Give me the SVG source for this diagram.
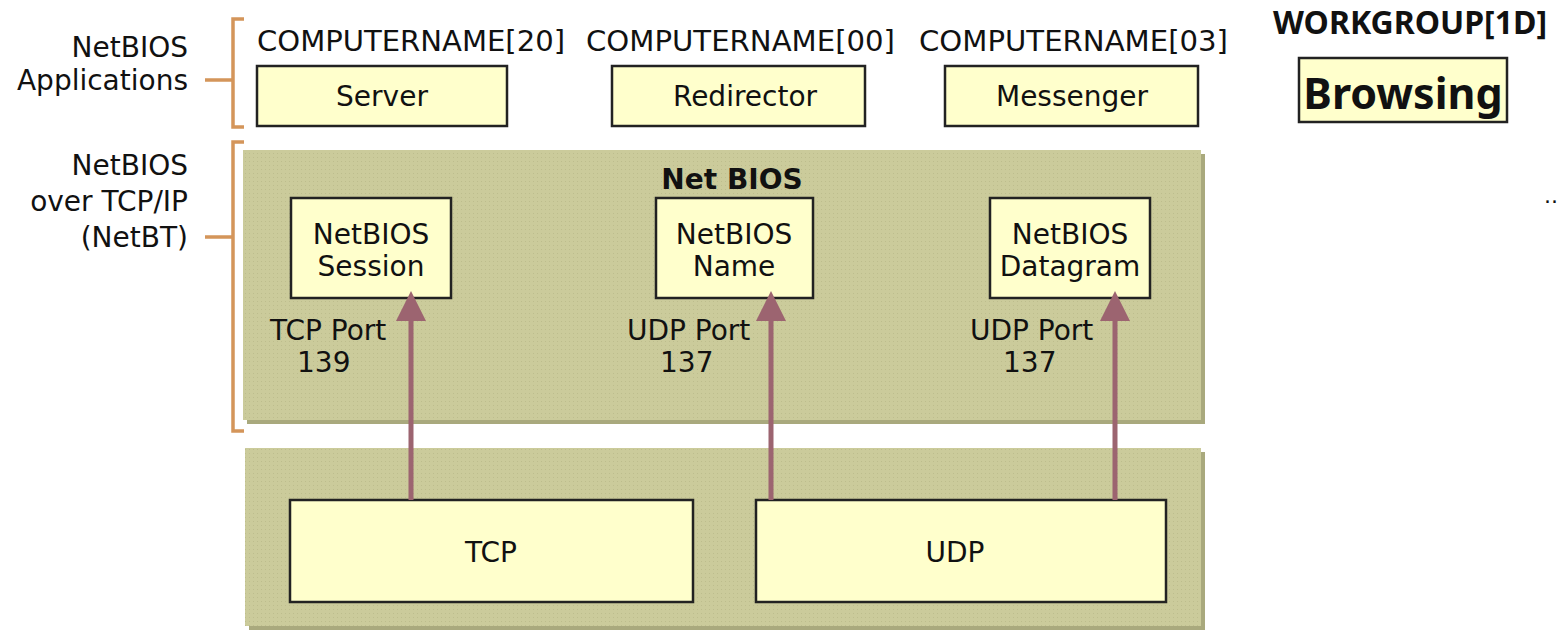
<svg xmlns="http://www.w3.org/2000/svg" width="1563" height="630" viewBox="0 0 1563 630">
<style>
text{font-family:"DejaVu Sans","Liberation Sans",sans-serif;fill:#111;font-size:28px}
.c{text-anchor:middle}
.r{text-anchor:end}
.box{fill:#ffffcc;stroke:#222;stroke-width:2.5}
.panel{fill:#cbcb9b}
.shadow{fill:#a9a97d}
.br{fill:none;stroke:#d4955a;stroke-width:3.5}
.arr{stroke:#9c6470;stroke-width:5;fill:none}
.rt{font-family:"Noto Sans","Open Sans",sans-serif;font-weight:bold}
.wg{font-size:32px}
.bw{font-size:43px}
.sm{font-size:22px}
</style>
<defs>
<marker id="ah" markerWidth="6" markerHeight="6" refX="3" refY="3" orient="auto" markerUnits="strokeWidth" viewBox="0 0 6 6">
<path d="M0,0 L6,3 L0,6 z" fill="#9c6470"/>
</marker>
<pattern id="dots" width="4" height="4" patternUnits="userSpaceOnUse">
<rect width="4" height="4" fill="#cbcb9b"/>
<rect x="1" y="1" width="1" height="1" fill="#bdbd8d"/>
</pattern>
</defs>
<g id="labels-left">
<text class="r" x="188" y="57">NetBIOS</text>
<text class="r" x="188" y="90">Applications</text>
<text class="r" x="188" y="175">NetBIOS</text>
<text class="r" x="188" y="211">over TCP/IP</text>
<text class="r" x="188" y="247">(NetBT)</text>
</g>
<g id="brackets">
<path class="br" d="M244,19 H233 V127 H244 M233,80 H205"/>
<path class="br" d="M244,142 H233 V431 H244 M233,237 H205"/>
</g>
<g id="apps">
<text x="257" y="51" textLength="308" lengthAdjust="spacingAndGlyphs">COMPUTERNAME[20]</text>
<text x="586" y="51" textLength="309" lengthAdjust="spacingAndGlyphs">COMPUTERNAME[00]</text>
<text x="919" y="51" textLength="309" lengthAdjust="spacingAndGlyphs">COMPUTERNAME[03]</text>
</g>
<g id="server"><rect class="box" x="257" y="66" width="250" height="60"/><text class="c" x="382" y="106">Server</text></g>
<g id="redirector"><rect class="box" x="612" y="66" width="253" height="60"/><text class="c" x="745" y="106">Redirector</text></g>
<g id="messenger"><rect class="box" x="945" y="66" width="253" height="60"/><text class="c" x="1072" y="106">Messenger</text></g>
<g id="netbios-panel">
<rect class="shadow" x="247" y="154" width="958" height="270"/>
<rect x="243" y="150" width="958" height="270" fill="url(#dots)"/>
<text class="c" x="732" y="189" font-weight="bold">Net BIOS</text>
</g>
<g id="session"><rect class="box" x="291" y="198" width="160" height="100"/><text class="c" x="371" y="244">NetBIOS</text><text class="c" x="371" y="276">Session</text></g>
<g id="name"><rect class="box" x="656" y="198" width="157" height="100"/><text class="c" x="734" y="244">NetBIOS</text><text class="c" x="734" y="276">Name</text></g>
<g id="datagram"><rect class="box" x="990" y="198" width="160" height="100"/><text class="c" x="1070" y="244">NetBIOS</text><text class="c" x="1070" y="276">Datagram</text></g>
<g id="ports">
<text x="270" y="340">TCP Port</text><text x="297" y="372">139</text>
<text x="627" y="340">UDP Port</text><text x="660" y="372">137</text>
<text x="970" y="340">UDP Port</text><text x="1003" y="372">137</text>
</g>
<g id="transport-panel">
<rect class="shadow" x="249" y="452" width="956" height="178"/>
<rect x="245" y="448" width="956" height="178" fill="url(#dots)"/>
</g>
<g id="tcp"><rect class="box" x="290" y="500" width="403" height="102"/><text class="c" x="491" y="562">TCP</text></g>
<g id="udp"><rect class="box" x="756" y="500" width="410" height="102"/><text class="c" x="955" y="562">UDP</text></g>
<g id="connectors">
<line class="arr" x1="411" y1="500" x2="411" y2="306" marker-end="url(#ah)"/>
<line class="arr" x1="771" y1="500" x2="771" y2="306" marker-end="url(#ah)"/>
<line class="arr" x1="1115" y1="500" x2="1115" y2="306" marker-end="url(#ah)"/>
</g>
<g id="browsing">
<text class="c rt wg" x="1410" y="34">WORKGROUP[1D]</text>
<rect class="box" x="1299" y="58" width="208" height="64" stroke-width="2"/>
<text class="c rt bw" x="1403" y="109">Browsing</text>
</g>
<text class="sm" x="1544" y="203">..</text>
</svg>
